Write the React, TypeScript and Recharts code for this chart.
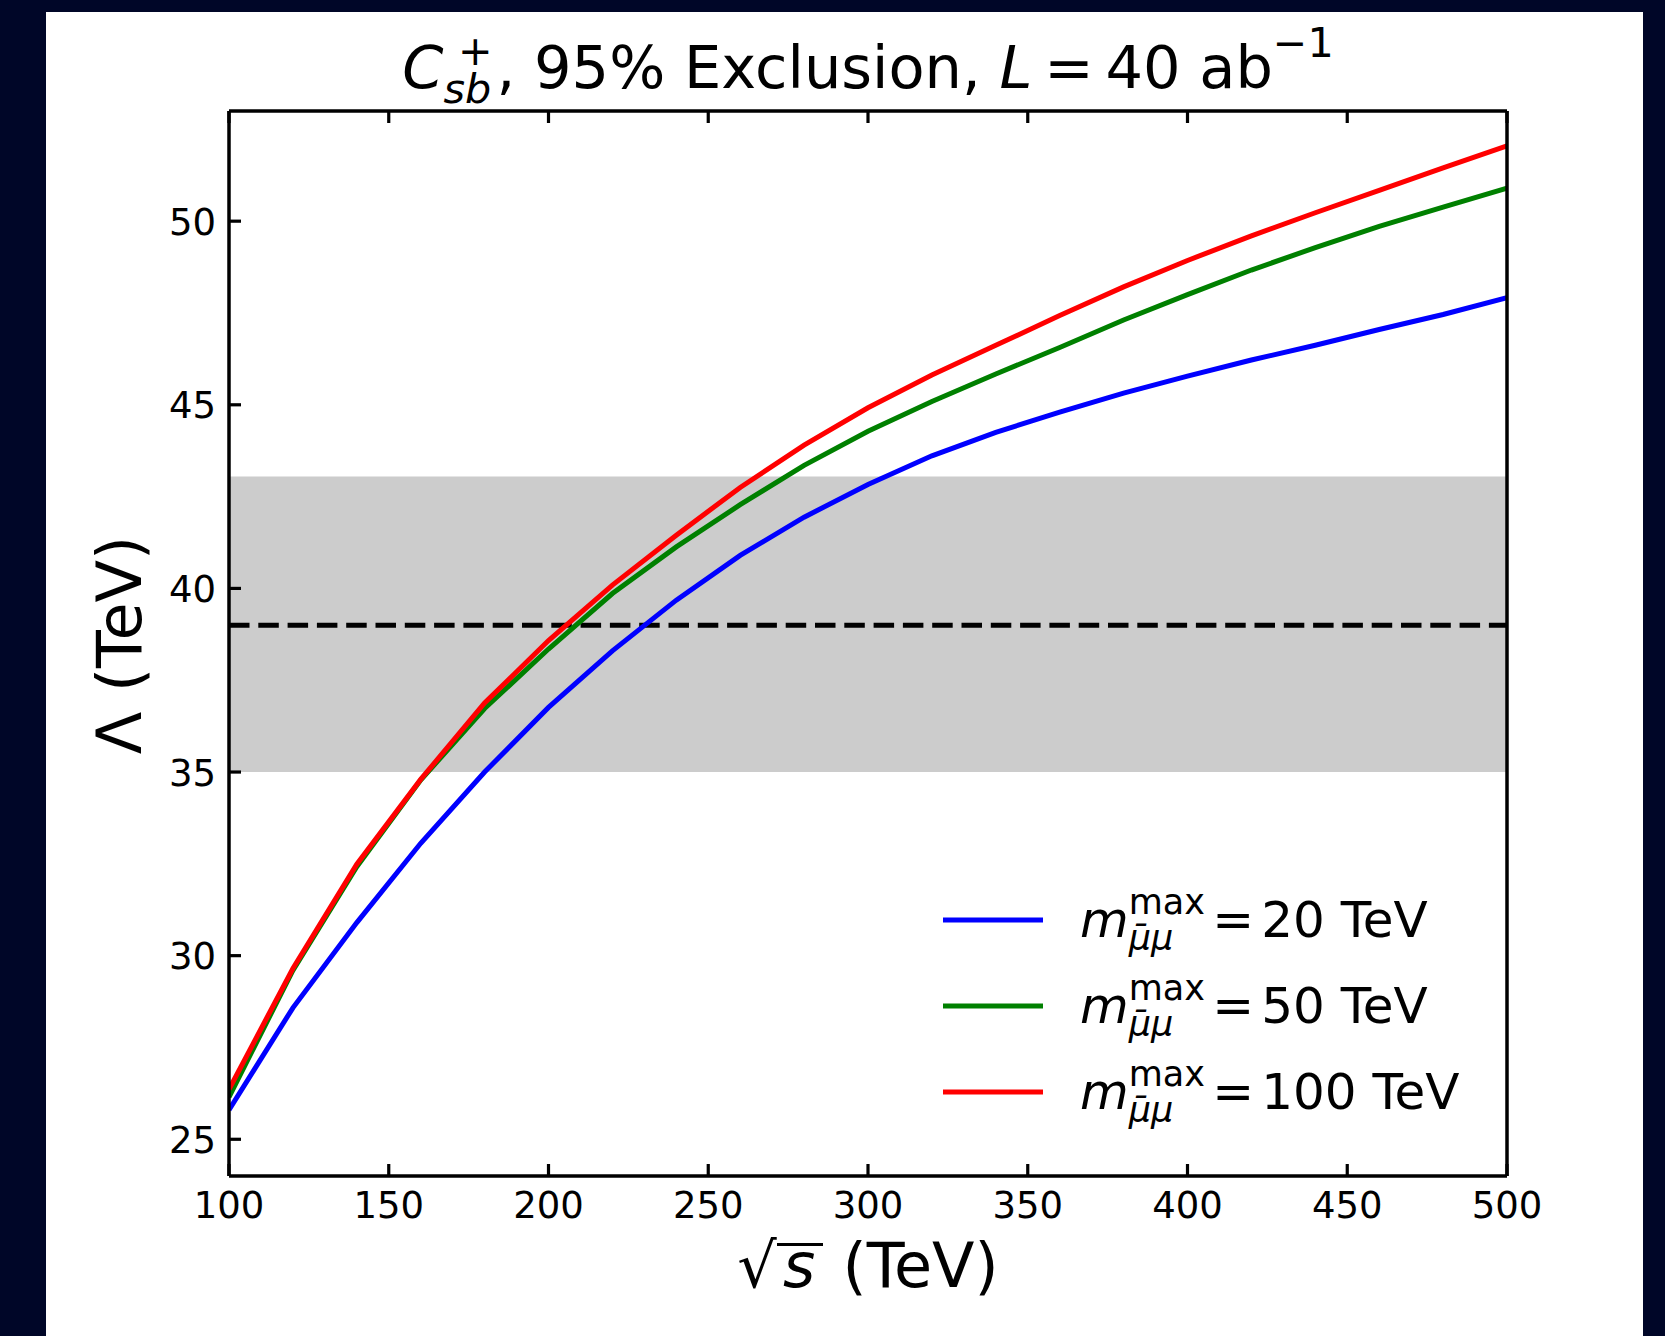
import React from 'react';
import { LineChart, Line, XAxis, YAxis, ReferenceArea, ReferenceLine } from 'recharts';

// sqrt(s) in TeV
const sqrtS = [100, 120, 140, 160, 180, 200, 220, 240, 260, 280, 300, 320, 340, 360, 380, 400, 420, 440, 460, 480, 500];
// Lambda (TeV) for each m_max cut
const lam20 = [25.8, 28.58, 30.9, 33.06, 35.0, 36.76, 38.3, 39.68, 40.9, 41.94, 42.83, 43.61, 44.25, 44.8, 45.32, 45.78, 46.22, 46.62, 47.05, 47.46, 47.92];
const lam50 = [26.15, 29.6, 32.42, 34.78, 36.73, 38.35, 39.86, 41.13, 42.28, 43.35, 44.28, 45.09, 45.84, 46.56, 47.31, 48.0, 48.67, 49.28, 49.86, 50.38, 50.9];
const lam100 = [26.36, 29.65, 32.49, 34.8, 36.88, 38.58, 40.09, 41.45, 42.75, 43.9, 44.92, 45.81, 46.62, 47.43, 48.21, 48.93, 49.6, 50.23, 50.84, 51.45, 52.05];

const xTicks = [100, 150, 200, 250, 300, 350, 400, 450, 500];
const yTicks = [25, 30, 35, 40, 45, 50];
const bandRange = [35, 43.05];
const centralValue = 39;

const seriesList = [
  { key: 'm20', cut: '20', color: '#0000ff' },
  { key: 'm50', cut: '50', color: '#008000' },
  { key: 'm100', cut: '100', color: '#ff0000' },
];

const data = sqrtS.map((s, i) => ({ s, m20: lam20[i], m50: lam50[i], m100: lam100[i] }));

const FONT = '"DejaVu Sans", sans-serif';
const TICK_LEN = 12;
const TICK_FONT = 37;
const AX_W = 3.5;

const BottomTick = ({ x, y, payload }: any) => (
  <g>
    <line x1={x} x2={x} y1={y} y2={y - TICK_LEN} stroke="#000" strokeWidth={3.2} />
    <text x={x} y={y + 42} textAnchor="middle" fontSize={TICK_FONT} fontFamily={FONT} fill="#000">
      {payload.value}
    </text>
  </g>
);
const TopTick = ({ x, y }: any) => (
  <line x1={x} x2={x} y1={y} y2={y + TICK_LEN} stroke="#000" strokeWidth={3.2} />
);
const LeftTick = ({ x, y, payload }: any) => (
  <g>
    <line x1={x} x2={x + TICK_LEN} y1={y} y2={y} stroke="#000" strokeWidth={3.2} />
    <text x={x - 13} y={y + 13.5} textAnchor="end" fontSize={TICK_FONT} fontFamily={FONT} fill="#000">
      {payload.value}
    </text>
  </g>
);
const RightTick = ({ x, y }: any) => (
  <line x1={x} x2={x - TICK_LEN} y1={y} y2={y} stroke="#000" strokeWidth={3.2} />
);

// stacked super/subscript, offsets in em of the script font
function SupSub({ sup, sub, width, supLeft = '0em', supTop, subTop }: any) {
  return (
    <span style={{ position: 'relative', display: 'inline-block', width }}>
      <span style={{ fontSize: '0.7em', lineHeight: 1, position: 'absolute', left: supLeft, top: supTop, whiteSpace: 'nowrap' }}>
        {sup}
      </span>
      <span
        style={{ fontSize: '0.7em', lineHeight: 1, fontStyle: 'italic', position: 'absolute', left: 0, top: subTop, whiteSpace: 'nowrap' }}
      >
        {sub}
      </span>
    </span>
  );
}

function LegendBox() {
  return (
    <div style={{ position: 'absolute', left: 943, top: 877, fontFamily: FONT, fontSize: 50, color: '#000' }}>
      {seriesList.map((s) => (
        <div key={s.key} style={{ display: 'flex', alignItems: 'center', height: 86 }}>
          <svg width={100} height={10} style={{ marginRight: 37 }}>
            <line x1={0} x2={100} y1={5} y2={5} stroke={s.color} strokeWidth={5} />
          </svg>
          <span style={{ whiteSpace: 'nowrap', lineHeight: 1 }}>
            <span style={{ fontStyle: 'italic' }}>m</span>
            <SupSub sup="max" sub="μ̄μ" width="1.55em" supTop="-1.49em" subTop="-0.45em" />
            <span style={{ margin: '0 0.14em 0 0.12em' }}>=</span>
            {s.cut + ' TeV'}
          </span>
        </div>
      ))}
    </div>
  );
}

export default function App() {
  return (
    <div style={{ position: 'absolute', left: 0, top: 0, width: 1665, height: 1336, background: '#000628', overflow: 'hidden' }}>
      <div style={{ position: 'absolute', left: 46, top: 12, width: 1597, height: 1324, background: '#fff' }} />

      {/* title */}
      <div
        style={{
          position: 'absolute',
          left: 0,
          width: 1736,
          top: 33,
          textAlign: 'center',
          fontFamily: FONT,
          fontSize: 59,
          color: '#000',
          whiteSpace: 'nowrap',
          lineHeight: 1.2,
        }}
      >
        <span style={{ fontStyle: 'italic' }}>C</span>
        <SupSub sup="+" sub="sb" width="0.9em" supLeft="0.35em" supTop="-1.38em" subTop="-0.46em" />
        , 95% Exclusion, <span style={{ fontStyle: 'italic' }}>L</span>
        <span style={{ margin: '0 0.2em' }}>=</span>
        40 ab
        <span style={{ fontSize: '0.7em', position: 'relative', top: '-0.75em' }}>−1</span>
      </div>

      {/* x label */}
      <div
        style={{
          position: 'absolute',
          left: 0,
          width: 1736,
          top: 1229,
          textAlign: 'center',
          fontFamily: FONT,
          fontSize: 62,
          color: '#000',
          whiteSpace: 'nowrap',
          lineHeight: 1.2,
        }}
      >
        <span>√</span>
        <span style={{ position: 'relative', display: 'inline-block', lineHeight: 1, padding: '0 0.12em 0 0.1em' }}>
          <span style={{ position: 'absolute', left: 0, right: 0, top: 8, height: 3, background: '#000' }} />
          <span style={{ fontStyle: 'italic' }}>s</span>
        </span>
        <span> (TeV)</span>
      </div>

      {/* y label */}
      <div
        style={{
          position: 'absolute',
          left: 120,
          top: 645,
          transform: 'translate(-50%, -50%) rotate(-90deg)',
          fontFamily: FONT,
          fontSize: 62,
          color: '#000',
          whiteSpace: 'nowrap',
          lineHeight: 1,
        }}
      >
        Λ (TeV)
      </div>

      <div style={{ position: 'absolute', left: 0, top: 0 }}>
        <LineChart width={1665} height={1336} data={data} margin={{ top: 110, right: 157, bottom: 159, left: 228 }}>
          <XAxis
            xAxisId="bottom"
            dataKey="s"
            type="number"
            domain={[100, 500]}
            ticks={xTicks}
            interval={0}
            height={1}
            tickSize={0}
            tickMargin={0}
            tickLine={false}
            tick={<BottomTick />}
            axisLine={{ stroke: '#000', strokeWidth: AX_W }}
            allowDataOverflow
          />
          <XAxis
            xAxisId="top"
            orientation="top"
            dataKey="s"
            type="number"
            domain={[100, 500]}
            ticks={xTicks}
            interval={0}
            height={1}
            tickSize={0}
            tickMargin={0}
            tickLine={false}
            tick={<TopTick />}
            axisLine={{ stroke: '#000', strokeWidth: AX_W }}
          />
          <YAxis
            yAxisId="left"
            type="number"
            domain={[24, 53]}
            ticks={yTicks}
            interval={0}
            width={1}
            tickSize={0}
            tickMargin={0}
            tickLine={false}
            tick={<LeftTick />}
            axisLine={{ stroke: '#000', strokeWidth: AX_W }}
            allowDataOverflow
          />
          <YAxis
            yAxisId="right"
            orientation="right"
            type="number"
            domain={[24, 53]}
            ticks={yTicks}
            interval={0}
            width={1}
            tickSize={0}
            tickMargin={0}
            tickLine={false}
            tick={<RightTick />}
            axisLine={{ stroke: '#000', strokeWidth: AX_W }}
          />
          <ReferenceArea
            xAxisId="bottom"
            yAxisId="left"
            x1={100}
            x2={500}
            y1={bandRange[0]}
            y2={bandRange[1]}
            fill="#cccccc"
            fillOpacity={1}
            stroke="none"
          />
          <ReferenceLine
            xAxisId="bottom"
            yAxisId="left"
            y={centralValue}
            stroke="#000"
            strokeWidth={5}
            strokeDasharray="20.5 8.8"
          />
          {seriesList.map((s) => (
            <Line
              key={s.key}
              xAxisId="bottom"
              yAxisId="left"
              type="linear"
              dataKey={s.key}
              stroke={s.color}
              strokeWidth={5}
              dot={false}
              isAnimationActive={false}
            />
          ))}
        </LineChart>
      </div>
      <LegendBox />
    </div>
  );
}
